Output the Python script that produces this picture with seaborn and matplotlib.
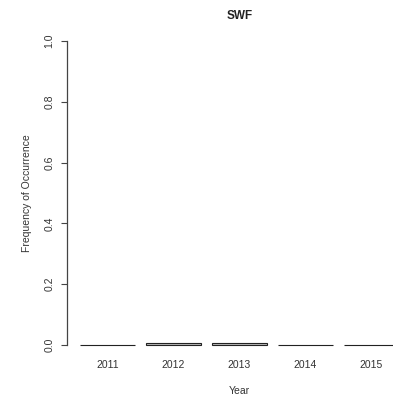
import matplotlib
matplotlib.use("Agg")
import matplotlib.pyplot as plt
import seaborn as sns
import pandas as pd

years = ["2011", "2012", "2013", "2014", "2015"]
frequency = [0.0, 0.006, 0.006, 0.0, 0.0]
y_ticks = [0.0, 0.2, 0.4, 0.6, 0.8, 1.0]
y_tick_labels = ["0.0", "0.2", "0.4", "0.6", "0.8", "1.0"]

sns.set_style("white")
plt.rcParams["font.family"] = ["Liberation Sans", "DejaVu Sans"]

df = pd.DataFrame({"Year": years, "Frequency": frequency})

fig = plt.figure(figsize=(3.93, 3.98), dpi=100)
W, H = 393, 398
# plot region in pixels: left 67, right 412 (runs past the right edge), top 29, bottom 357
ax = fig.add_axes([67 / W, (H - 357) / H, (412 - 67) / W, (357 - 29) / H])

sns.barplot(data=df, x="Year", y="Frequency", order=years, color="#BEBEBE",
            saturation=1, edgecolor="#222222", linewidth=0.8, width=1 / 1.2, ax=ax)

ax.set_xlim(-0.614, 4.614)
ax.set_ylim(-0.04, 1.04)

for side in ["top", "right", "bottom"]:
    ax.spines[side].set_visible(False)
ax.spines["left"].set_bounds(0, 1)
ax.spines["left"].set_color("#444444")
ax.spines["left"].set_linewidth(0.9)

ax.set_yticks(y_ticks)
ax.set_yticklabels(y_tick_labels, rotation=90, va="center", fontsize=7.5, color="#333333")
ax.tick_params(axis="y", length=4, width=0.8, color="#444444", pad=5, left=True)
ax.tick_params(axis="x", length=0, pad=2.5, labelsize=7.5, labelcolor="#333333")

ax.set_xlabel("Year", fontsize=7.5, color="#333333", labelpad=11.5)
ax.set_ylabel("Frequency of Occurrence", fontsize=7.5, color="#333333", labelpad=9)
ax.set_title("SWF", fontsize=8.5, fontweight="bold", color="#222222", pad=7)

fig.savefig("out.png", dpi=100)
